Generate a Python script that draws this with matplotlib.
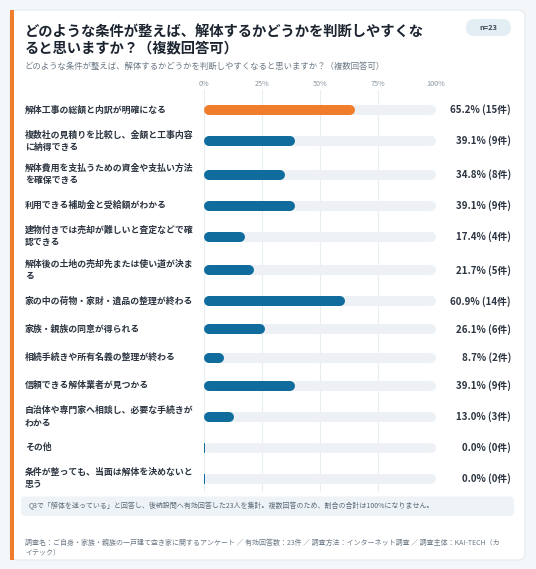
import matplotlib
matplotlib.use("Agg")
import matplotlib.pyplot as plt
from matplotlib.patches import FancyBboxPatch, Rectangle
from matplotlib.lines import Line2D
from matplotlib.transforms import IdentityTransform

plt.rcParams['font.family'] = ['Noto Sans CJK JP', 'DejaVu Sans']

# data
title = "どのような条件が整えば、解体するかどうかを判断しやすくな\nると思いますか？（複数回答可）"
subtitle = "どのような条件が整えば、解体するかどうかを判断しやすくなると思いますか？（複数回答可）"
n_label = "n=23"
labels = [
    "解体工事の総額と内訳が明確になる",
    "複数社の見積りを比較し、金額と工事内容\nに納得できる",
    "解体費用を支払うための資金や支払い方法\nを確保できる",
    "利用できる補助金と受給額がわかる",
    "建物付きでは売却が難しいと査定などで確\n認できる",
    "解体後の土地の売却先または使い道が決ま\nる",
    "家の中の荷物・家財・遺品の整理が終わる",
    "家族・親族の同意が得られる",
    "相続手続きや所有名義の整理が終わる",
    "信頼できる解体業者が見つかる",
    "自治体や専門家へ相談し、必要な手続きが\nわかる",
    "その他",
    "条件が整っても、当面は解体を決めないと\n思う",
]
percents = [65.2, 39.1, 34.8, 39.1, 17.4, 21.7, 60.9, 26.1, 8.7, 39.1, 13.0, 0.0, 0.0]
counts = [15, 9, 8, 9, 4, 5, 14, 6, 2, 9, 3, 0, 0]
ticks = [0, 25, 50, 75, 100]
note = "Q3で「解体を迷っている」と回答し、後続設問へ有効回答した23人を集計。複数回答のため、割合の合計は100%になりません。"
footer = ("調査名：ご自身・家族・親族の一戸建て空き家に関するアンケート ／ 有効回答数：23件 ／ 調査方法：インターネット調査 ／ 調査主体：KAI-TECH（カ\n"
          "イテック）")

ORANGE = "#ef7d2c"
BLUE = "#0f6c9c"
TRACK = "#edf1f5"
W, H = 536, 569

fig = plt.figure(figsize=(W / 100, H / 100), dpi=100)
fig.patch.set_facecolor("#f4f7fa")

# background / decorations in pixel coords
bg = fig.add_axes([0, 0, 1, 1])
bg.set_xlim(0, W)
bg.set_ylim(H, 0)
bg.axis("off")

bg.add_patch(FancyBboxPatch((10, 10), 515, 550, boxstyle="round,pad=0,rounding_size=7",
                            fc="white", ec="#e2e8ee", lw=0.7))
bg.add_patch(Rectangle((10, 10), 4, 550, fc=ORANGE, ec="none"))

bg.text(25, 40, title, fontsize=10.3, fontweight="bold", color="#1c2430",
        va="center", ha="left", linespacing=1.3)
bg.text(25, 66.5, subtitle, fontsize=6.05, color="#6b7885", va="center", ha="left")

bg.add_patch(FancyBboxPatch((466, 19), 45, 17, boxstyle="round,pad=0,rounding_size=8.5",
                            fc="#e3eef4", ec="none"))
bg.text(488.5, 27.5, n_label, fontsize=5.3, fontweight="bold", color="#3a4753",
        ha="center", va="center")

bg.add_patch(FancyBboxPatch((21, 496.5), 493, 19.5, boxstyle="round,pad=0,rounding_size=4",
                            fc="#eef3f7", ec="none"))
bg.text(29, 506.5, note, fontsize=5, color="#5c6b78", va="center", ha="left")
bg.text(25, 548, footer, fontsize=5, color="#6b7885", va="center", ha="left",
        linespacing=1.5)

# row positions (pixel) based on label line count
ys = []
y = 110
prev_h = None
for lab in labels:
    h = 33.7 if "\n" in lab else 28.2
    if prev_h is not None:
        y += (prev_h + h) / 2
    ys.append(y)
    prev_h = h

x0_px, x1_px = 204.3, 435.5
top_px, bot_px = 90, 492
ax = fig.add_axes([x0_px / W, 1 - bot_px / H, (x1_px - x0_px) / W, (bot_px - top_px) / H])
ax.set_xlim(0, 100)
ax.set_ylim(bot_px, top_px)
ax.set_frame_on(False)
ax.patch.set_alpha(0)
ax.xaxis.tick_top()
ax.set_xticks(ticks)
ax.set_xticklabels([f"{t}%" for t in ticks])
ax.tick_params(axis="x", length=0, labelsize=5.2, labelcolor="#8a97a3", pad=1.5)
ax.set_yticks([])
for t in ticks:
    ax.axvline(t, color="#e8edf2", lw=0.8, zorder=0)

bar_h = 10
tracks = ax.barh(ys, [100] * len(ys), height=bar_h, color=TRACK)
bars = ax.barh(ys, percents, height=bar_h,
               color=[ORANGE] + [BLUE] * (len(ys) - 1))


def round_bars(container, z):
    # redraw each bar as a pill (round-capped line) in pixel space
    for p in container.patches:
        ext = p.get_window_extent()
        fc = p.get_facecolor()
        p.set_visible(False)
        r = ext.height / 2
        yc = (ext.y0 + ext.y1) / 2
        if ext.width < 2 * r:
            art = Rectangle((ext.x0, ext.y0), max(ext.width, 1.0), ext.height,
                            fc=fc, ec="none")
        else:
            art = Line2D([ext.x0 + r, ext.x1 - r], [yc, yc], color=fc,
                         lw=ext.height * 72 / fig.dpi, solid_capstyle="round")
        art.set_transform(IdentityTransform())
        art.set_zorder(z)
        fig.add_artist(art)


round_bars(tracks, 2)
round_bars(bars, 3)

for lab, yy, pct, c in zip(labels, ys, percents, counts):
    bg.text(25, yy, lab, fontsize=6.4, fontweight="bold", color="#2b3440",
            va="center", ha="left", linespacing=1.45)
    bg.text(511, yy, f"{pct:.1f}% ({c}件)", fontsize=7, fontweight="bold",
            color="#2b3440", va="center", ha="right")

fig.savefig("out.png", dpi=100, facecolor=fig.get_facecolor())
